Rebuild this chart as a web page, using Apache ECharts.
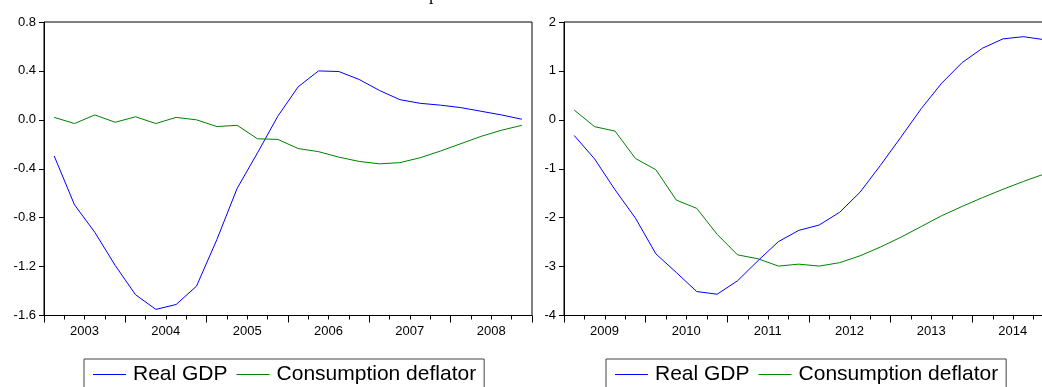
<!DOCTYPE html>
<html>
<head>
<meta charset="utf-8">
<script src="https://cdn.jsdelivr.net/npm/echarts@6/dist/echarts.min.js"></script>
<style>html,body{margin:0;padding:0;background:#fff;}#c{width:1042px;height:387px;}</style>
</head>
<body>
<div id="c"></div>
<script>
// ---- data (quarterly) ----
var quartersLeft = ['2003Q1','2003Q2','2003Q3','2003Q4','2004Q1','2004Q2','2004Q3','2004Q4',
  '2005Q1','2005Q2','2005Q3','2005Q4','2006Q1','2006Q2','2006Q3','2006Q4',
  '2007Q1','2007Q2','2007Q3','2007Q4','2008Q1','2008Q2','2008Q3','2008Q4'];
var gdpLeft = [-0.295,-0.695,-0.92,-1.19,-1.43,-1.55,-1.51,-1.36,
  -0.98,-0.56,-0.27,0.03,0.27,0.40,0.395,0.33,
  0.24,0.165,0.135,0.12,0.10,0.07,0.04,0.005];
var deflLeft = [0.02,-0.03,0.04,-0.02,0.025,-0.03,0.02,0.0,
  -0.055,-0.045,-0.155,-0.16,-0.235,-0.26,-0.305,-0.34,
  -0.36,-0.35,-0.31,-0.255,-0.195,-0.135,-0.085,-0.045];

var quartersRight = ['2009Q1','2009Q2','2009Q3','2009Q4','2010Q1','2010Q2','2010Q3','2010Q4',
  '2011Q1','2011Q2','2011Q3','2011Q4','2012Q1','2012Q2','2012Q3','2012Q4',
  '2013Q1','2013Q2','2013Q3','2013Q4','2014Q1','2014Q2','2014Q3','2014Q4'];
var gdpRight = [-0.32,-0.80,-1.43,-2.01,-2.74,-3.12,-3.51,-3.565,
  -3.29,-2.88,-2.49,-2.26,-2.15,-1.89,-1.48,-0.93,
  -0.355,0.23,0.75,1.17,1.465,1.655,1.70,1.64];
var deflRight = [0.20,-0.14,-0.23,-0.79,-1.02,-1.64,-1.81,-2.34,
  -2.76,-2.84,-2.99,-2.95,-2.99,-2.92,-2.78,-2.60,
  -2.40,-2.18,-1.96,-1.77,-1.59,-1.42,-1.26,-1.11];

var yearsLeft = [2003, 2009];
var yearsRight = [2009, 2015];
var legendNames = ['Real GDP', 'Consumption deflator'];
var titleText = 'p';

function qx(q) { // quarter label -> position at middle of quarter
  var y = parseInt(q.slice(0, 4), 10), n = parseInt(q.slice(5), 10);
  return y + (n - 0.5) / 4;
}
function pairs(qs, vals) { return qs.map(function (q, i) { return [qx(q), vals[i]]; }); }

var FONT = '"Liberation Sans", Arial, sans-serif';

function xAxisFor(idx, range) {
  return {
    type: 'value', gridIndex: idx, min: range[0], max: range[1], interval: 1,
    axisLine: { show: true, onZero: false, lineStyle: { color: '#000', width: 1 } },
    axisTick: { show: true, inside: false, length: 7, lineStyle: { color: '#000' } },
    minorTick: { show: true, splitNumber: 4, length: 4, lineStyle: { color: '#000' } },
    splitLine: { show: false }, minorSplitLine: { show: false },
    axisLabel: {
      show: true, color: '#000', fontSize: 13, fontFamily: FONT, margin: 9,
      padding: [0, 0, 0, 81],
      showMaxLabel: false,
      formatter: function (v) { return v < range[1] ? String(v) : ''; }
    }
  };
}
function yAxisFor(idx, min, max, interval, dec) {
  return {
    type: 'value', gridIndex: idx, min: min, max: max, interval: interval,
    axisLine: { show: true, lineStyle: { color: '#000', width: 1 } },
    axisTick: { show: true, inside: false, length: 5, lineStyle: { color: '#000' } },
    splitLine: { show: false },
    axisLabel: {
      color: '#000', fontSize: 13, fontFamily: FONT, margin: 8,
      formatter: function (v) { return dec ? v.toFixed(dec) : String(v); }
    }
  };
}
function lineSeries(name, color, xi, data) {
  return {
    type: 'line', name: name, xAxisIndex: xi, yAxisIndex: xi, data: data,
    symbol: 'none', smooth: false, lineStyle: { color: color, width: 1 },
    itemStyle: { color: color }, animation: false
  };
}
function legendFor(left) {
  return {
    left: left, top: 359, orient: 'horizontal',
    data: legendNames, icon: 'rect', itemWidth: 33, itemHeight: 1, itemGap: 9,
    borderColor: '#444', borderWidth: 1, padding: [5, 8, 10, 9],
    textStyle: { color: '#000', fontSize: 21, fontFamily: FONT, padding: [0, 0, 0, 2] },
    selectedMode: false
  };
}

var chart = echarts.init(document.getElementById('c'), null, { renderer: 'canvas' });
chart.setOption({
  animation: false,
  backgroundColor: '#fff',
  grid: [
    { left: 44, top: 22, width: 488, height: 293.5, show: true, borderColor: '#000', borderWidth: 1, containLabel: false, outerBoundsMode: 'none' },
    { left: 564, top: 22, width: 490, height: 293.5, show: true, borderColor: '#000', borderWidth: 1, containLabel: false, outerBoundsMode: 'none' }
  ],
  xAxis: [xAxisFor(0, yearsLeft), xAxisFor(1, yearsRight)],
  yAxis: [yAxisFor(0, -1.6, 0.8, 0.4, 1), yAxisFor(1, -4, 2, 1, 0)],
  legend: [legendFor(84), legendFor(606)],
  graphic: [{
    type: 'text', left: 429, top: -14,
    style: { text: titleText, font: '18px "Liberation Serif", "Times New Roman", serif', fill: '#000' }
  }],
  series: [
    lineSeries('Real GDP', '#0000ff', 0, pairs(quartersLeft, gdpLeft)),
    lineSeries('Consumption deflator', '#008000', 0, pairs(quartersLeft, deflLeft)),
    lineSeries('Real GDP', '#0000ff', 1, pairs(quartersRight, gdpRight)),
    lineSeries('Consumption deflator', '#008000', 1, pairs(quartersRight, deflRight))
  ]
});
</script>
</body>
</html>
